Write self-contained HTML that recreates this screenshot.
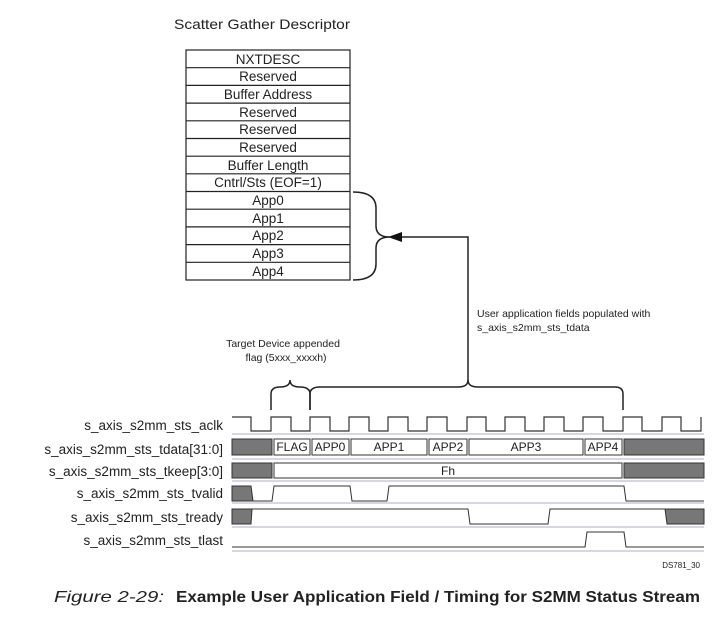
<!DOCTYPE html>
<html><head><style>body{margin:0;background:#fff}svg{display:block}</style></head><body>
<svg width="717" height="618" xmlns="http://www.w3.org/2000/svg" font-family="Liberation Sans, Arial, sans-serif">
<rect width="717" height="618" fill="#fff"/>
<text x="174" y="29" font-size="14" fill="#222" textLength="176" lengthAdjust="spacingAndGlyphs">Scatter Gather Descriptor</text>
<g stroke="#222" stroke-width="1.2" fill="none">
<rect x="186" y="50" width="164" height="230"/>
<path d="M186 67.7H350M186 85.4H350M186 103.1H350M186 120.8H350M186 138.5H350M186 156.2H350M186 173.8H350M186 191.5H350M186 209.2H350M186 226.9H350M186 244.6H350M186 262.3H350"/>
<path d="M353 192 Q376 192 376 208 L376 226 Q376 237 390 237 Q376 237 376 248 L376 264 Q376 280 353 280" stroke-width="1.5"/>
<path d="M400 237 H468 V381" stroke-width="1.5"/>
</g>
<polygon points="388,237 402,232 402,242" fill="#111"/>
<g font-size="13.5" fill="#222" text-anchor="middle">
<text x="268" y="64">NXTDESC</text><text x="268" y="81">Reserved</text><text x="268" y="99">Buffer Address</text>
<text x="268" y="117">Reserved</text><text x="268" y="134">Reserved</text><text x="268" y="152">Reserved</text>
<text x="268" y="170">Buffer Length</text><text x="268" y="187">Cntrl/Sts (EOF=1)</text><text x="268" y="205">App0</text>
<text x="268" y="223">App1</text><text x="268" y="240">App2</text><text x="268" y="258">App3</text><text x="268" y="276">App4</text>
</g>
<g font-size="10.5" fill="#222">
<text x="477" y="317">User application fields populated with</text>
<text x="477" y="331">s_axis_s2mm_sts_tdata</text>
<text x="283" y="347" text-anchor="middle">Target Device appended</text>
<text x="286" y="361" text-anchor="middle">flag (5xxx_xxxxh)</text>
</g>
<g stroke="#222" stroke-width="1.5" fill="none">
<path d="M271 410 V394 Q271 387 280 387 Q290 387 290 380 Q290 387 300 387 Q310 387 310 394 V410"/>
<path d="M310 410 V394 Q310 387 320 387 H458 Q468 387 468 380 Q468 387 478 387 H615 Q623 387 623 394 V410"/>
</g>
<g stroke="#c8c8dc" stroke-width="1.5">
<path d="M232 434H704M232 459H704M232 481H704M232 503H704M232 527H704M232 551H704"/>
</g>
<g font-size="13.5" fill="#222" text-anchor="end">
<text x="223" y="430">s_axis_s2mm_sts_aclk</text>
<text x="223" y="454">s_axis_s2mm_sts_tdata[31:0]</text>
<text x="223" y="476">s_axis_s2mm_sts_tkeep[3:0]</text>
<text x="223" y="498">s_axis_s2mm_sts_tvalid</text>
<text x="223" y="522">s_axis_s2mm_sts_tready</text>
<text x="223" y="545">s_axis_s2mm_sts_tlast</text>
</g>
<g stroke="#333" stroke-width="1.2" fill="none">
<path d="M232 417H251V431H271V417H291V431H310V417H330V431H349V417H369V431H388V417H408V431H427V417H447V431H467V417H486V431H505V417H525V431H544V417H564V431H583V417H603V431H623V417H642V431H662V417H681V431H701V417"/>
</g>
<g stroke="#333" stroke-width="1" font-size="12" text-anchor="middle">
<rect x="232" y="439" width="40" height="16" fill="#777"/>
<rect x="624" y="439" width="80" height="16" fill="#777"/>
<g fill="#fff">
<rect x="274" y="439" width="36" height="16"/><rect x="312" y="439" width="37" height="16"/>
<rect x="351" y="439" width="76" height="16"/><rect x="429" y="439" width="38" height="16"/>
<rect x="469" y="439" width="114" height="16"/><rect x="585" y="439" width="37" height="16"/>
<rect x="274" y="463" width="348" height="15"/>
</g>
<rect x="232" y="463" width="40" height="15" fill="#777"/>
<rect x="624" y="463" width="80" height="15" fill="#777"/>
<g stroke="none" fill="#222">
<text x="292" y="451">FLAG</text><text x="330" y="451">APP0</text><text x="389" y="451">APP1</text>
<text x="448" y="451">APP2</text><text x="526" y="451">APP3</text><text x="603" y="451">APP4</text>
<text x="448" y="475">Fh</text>
</g>
<polygon points="232,486 251,486 253,501 232,501" fill="#777"/>
<polygon points="232,509 252,509 251,524 232,524" fill="#777"/>
<polygon points="665,509 704,509 704,524 667,524" fill="#777"/>
<path fill="none" d="M253 501H272L274 486H350L352 501H387L389 486H624L626 501H704"/>
<path fill="none" d="M252 509H468L470 524H548L550 509H665"/>
<path fill="none" d="M232 547H585L587 532H624L626 547H704"/>
</g>
<text x="700" y="568" font-size="8" fill="#222" text-anchor="end">DS781_30</text>
<text x="54" y="602" font-size="16" fill="#222" font-style="italic" textLength="110" lengthAdjust="spacingAndGlyphs">Figure 2-29:</text>
<text x="176" y="602" font-size="16" fill="#222" font-weight="bold" textLength="524" lengthAdjust="spacingAndGlyphs">Example User Application Field / Timing for S2MM Status Stream</text>
</svg>
</body></html>
